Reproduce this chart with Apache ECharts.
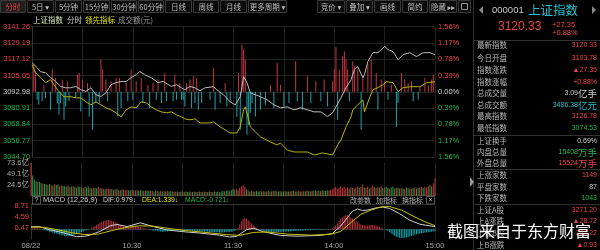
<!DOCTYPE html>
<html><head><meta charset="utf-8">
<script src="https://cdn.jsdelivr.net/npm/echarts@6/dist/echarts.min.js"></script>
<style>html,body{margin:0;padding:0;background:#000;}#c{width:600px;height:250px;}</style>
</head><body><div id="c"></div>
<script>
// ---------------- DATA ----------------
const prevClose = 3092.98;
const priceTicks = [3044.70,3056.77,3068.84,3080.91,3092.98,3105.05,3117.12,3129.19,3141.26];
const volTicks = [24.5,49.1,73.6];
const macdTicks = [0.47,4.59,8.71];
const timeTickLabels = ['08/22','','10:30','','11:30','','14:00','','15:00'];

// [minute index, price]
const priceLine = [[0,3114.5],[3,3110.8],[5,3107.8],[8,3107.1],[11,3103.4],[12,3104.3],[14,3100.6],[17,3096.9],[20,3095.9],[23,3095.9],[26,3096.9],[29,3094.5],[32,3093.2],[35,3095.9],[38,3090.8],[41,3089.5],[44,3092.2],[47,3098.2],[50,3099.7],[53,3100.6],[56,3100.6],[59,3103.4],[62,3105.6],[64,3108.1],[67,3105.6],[71,3103.4],[75,3099.7],[78,3100.6],[83,3096.9],[86,3098.2],[89,3095.9],[91,3094.5],[94,3096.9],[97,3095.9],[100,3093.7],[103,3095.9],[108,3096.7],[110,3094.5],[114,3090.8],[118,3085.5],[121,3083.3],[124,3089.3],[126,3104.1],[128,3099.7],[130,3092.2],[136,3089.3],[140,3087.0],[144,3083.3],[148,3081.1],[152,3081.8],[156,3079.6],[160,3081.1],[164,3079.6],[168,3078.1],[172,3078.1],[176,3074.6],[179,3077.4],[181,3081.8],[184,3088.5],[187,3096.0],[190,3101.9],[192,3109.3],[194,3111.6],[197,3103.4],[198,3105.6],[200,3115.3],[203,3121.9],[206,3121.9],[207,3122.7],[210,3126.5],[212,3124.2],[215,3122.7],[218,3116.7],[221,3120.5],[225,3121.9],[229,3119.0],[233,3121.9],[237,3121.9],[240,3120.33]];

// 领先指标 line
const leadLine = [[0,3113.0],[2,3107.1],[5,3103.4],[8,3099.7],[11,3101.9],[13,3098.2],[16,3093.0],[19,3089.3],[23,3089.3],[26,3088.5],[29,3088.5],[32,3085.5],[35,3083.3],[38,3085.5],[41,3083.3],[44,3081.1],[47,3079.6],[50,3077.4],[53,3074.4],[56,3079.6],[59,3081.8],[62,3081.1],[65,3085.5],[68,3084.8],[71,3081.8],[74,3079.6],[77,3078.1],[80,3077.4],[83,3078.1],[86,3075.9],[89,3074.4],[91,3072.9],[94,3072.2],[97,3072.9],[100,3069.9],[106,3069.9],[108,3070.7],[112,3067.0],[118,3062.5],[122,3062.5],[124,3067.0],[126,3079.6],[127,3081.8],[129,3072.2],[130,3067.0],[136,3059.6],[142,3055.8],[146,3053.6],[148,3055.1],[152,3049.9],[156,3048.4],[164,3048.4],[168,3046.2],[173,3047.7],[179,3046.2],[182,3053.6],[184,3057.3],[187,3067.0],[190,3074.4],[191,3079.6],[194,3083.3],[197,3087.0],[198,3078.1],[201,3088.5],[203,3094.5],[206,3096.0],[209,3098.2],[211,3100.4],[215,3099.7],[218,3093.0],[221,3096.0],[225,3096.7],[231,3096.7],[235,3099.7],[240,3100.4]];

// red/cyan 领先 bars, [minute index, % value]
const leadBars = [[1,0.65],[2,0.49],[3,-0.19],[4,-0.31],[6,-0.23],[7,0.17],[8,-0.15],[11,-0.43],[12,0.53],[14,0.33],[15,-0.27],[16,-0.55],[17,-0.27],[18,0.29],[19,-0.67],[20,-0.35],[21,0.25],[22,-0.23],[26,-0.15],[27,0.41],[28,0.45],[29,-0.47],[30,0.29],[33,0.21],[34,-0.59],[36,-0.91],[38,-0.27],[40,-0.27],[41,0.77],[42,0.53],[44,0.29],[45,-0.23],[47,0.25],[50,0.33],[51,-0.59],[52,0.33],[53,-0.39],[56,0.21],[57,-0.23],[59,0.53],[60,-0.19],[62,0.25],[65,0.33],[66,-0.27],[69,0.17],[70,-0.39],[72,0.21],[74,-0.19],[75,0.29],[77,-0.27],[79,0.45],[80,-0.23],[84,-0.23],[85,0.41],[86,-0.19],[88,0.21],[89,-0.19],[90,-0.19],[91,-0.35],[92,0.21],[94,0.29],[95,-0.39],[96,0.37],[97,-0.27],[98,0.33],[99,-0.43],[101,-0.27],[106,-0.19],[108,0.57],[109,-0.43],[112,-0.27],[115,0.21],[116,-0.35],[118,-0.19],[122,-0.6],[123,0.45],[124,-0.91],[125,1.13],[126,1.01],[127,0.77],[128,-1.03],[129,-0.8],[130,-0.5],[131,-0.27],[133,-0.59],[136,-0.43],[139,-0.31],[142,0.17],[144,-0.39],[146,0.69],[148,0.17],[150,-0.35],[153,-0.27],[157,0.73],[158,-0.23],[161,-0.43],[164,0.37],[166,-0.27],[169,0.25],[172,-0.23],[174,0.29],[176,-0.35],[179,0.25],[180,0.53],[181,1.07],[182,-0.67],[183,0.53],[185,0.85],[186,0.97],[187,0.77],[188,0.53],[189,-0.23],[191,0.73],[192,0.61],[194,0.53],[196,-0.91],[197,0.37],[200,0.65],[202,0.77],[205,0.45],[206,-0.43],[208,0.29],[210,0.25],[212,-0.19],[214,0.17],[217,-0.84],[218,-0.27],[220,0.45],[222,0.29],[224,0.21],[226,0.25],[227,-0.23],[230,-0.19],[231,0.12],[234,0.33],[236,0.17],[238,0.29],[239,0.41]];

// 成交额 (亿) per minute; positive = up (red), negative = down (green)
const volume = [73.6,-46,-37,-33,31,-32,-29,28,-27,-26,
25,-27,24,-23,26,-24,-25,22,24,-23,
-22,21,-23,20,-21,22,-20,19,-21,-20,
19,-18,20,-19,-21,18,-17,19,-18,-17,
20,18,-17,16,-15,17,16,-15,16,-14,
15,-16,14,-13,15,-14,13,14,-13,-12,
14,13,-12,13,-12,-13,12,-11,12,-12,
-11,12,-11,10,-12,11,-10,11,-10,11,
-10,11,-10,-11,10,-9,10,-10,9,-10,
10,-9,10,-9,-10,9,-9,10,-9,9,
-10,9,-9,10,-9,9,-10,9,-9,10,
-9,-10,9,-10,-11,10,-11,-12,11,-13,
-16,14,16,-13,18,22,24,20,-15,12,
-10,11,-10,10,-11,-10,11,-10,11,-10,
10,-11,10,-10,11,-12,10,-10,11,-10,
-10,11,-10,10,-10,11,-11,10,-10,11,
-10,10,11,-10,12,-11,10,-11,12,-12,
11,-12,11,-13,12,-12,-13,12,14,15,
18,20,16,19,22,18,21,17,19,-16,
20,18,-17,19,21,-18,20,26,-19,18,
21,-17,19,23,-20,18,20,-19,21,-18,
19,-20,-18,17,-19,-21,16,-18,19,-17,
18,-17,16,-19,18,-16,17,-18,19,-17,
18,-19,20,-18,21,19,-22,25,-21,28,
39];

// MACD histogram per minute
const macdHist = [0.3,0.4,0.5,0.4,0.3,0.2,0.1,-0.1,-0.3,-0.5,
-0.7,-0.9,-1.1,-1.3,-1.5,-1.7,-1.9,-2.0,-2.2,-2.3,
-2.4,-2.5,-2.6,-2.5,-2.4,-2.2,-2.0,-1.8,-1.6,-1.3,
-1.0,-0.8,-0.6,-0.4,-0.2,0.1,0.4,0.8,1.2,1.6,
2.0,2.4,2.7,3.0,3.2,3.4,3.5,3.4,3.2,3.0,
2.7,2.4,2.0,1.6,1.2,0.9,0.7,0.6,0.7,0.8,
0.9,1.0,1.1,1.0,0.9,0.8,0.6,0.4,0.2,0.1,
-0.1,-0.2,-0.4,-0.5,-0.6,-0.7,-0.8,-0.8,-0.9,-0.9,
-0.8,-0.8,-0.7,-0.7,-0.6,-0.6,-0.5,-0.5,-0.6,-0.6,
-0.7,-0.7,-0.6,-0.6,-0.5,-0.5,-0.6,-0.6,-0.7,-0.7,
-0.8,-0.8,-0.8,-0.9,-0.9,-0.9,-1.0,-1.0,-1.0,-1.1,
-1.1,-1.1,-1.2,-1.2,-1.2,-1.1,-1.1,-1.0,-1.0,-0.9,
-0.8,-0.6,-0.3,0.5,1.8,3.0,3.8,4.2,4.0,3.5,
2.8,2.2,1.6,1.0,0.5,0.1,-0.2,-0.4,-0.6,-0.7,
-0.8,-0.9,-1.0,-1.0,-1.1,-1.1,-1.0,-1.0,-1.0,-0.9,
-0.9,-0.9,-0.8,-0.8,-0.8,-0.7,-0.7,-0.7,-0.6,-0.6,
-0.6,-0.5,-0.5,-0.5,-0.4,-0.4,-0.4,-0.3,-0.3,-0.3,
-0.3,-0.2,-0.2,-0.2,-0.1,-0.1,0.0,0.1,0.2,0.4,
0.8,1.4,2.2,3.0,3.8,4.5,5.0,5.3,5.2,4.9,
4.5,4.0,3.5,3.0,2.5,2.1,1.8,1.6,1.5,1.4,
1.4,1.5,1.6,1.6,1.5,1.3,1.1,0.9,0.6,0.3,
0.0,-0.3,-0.7,-1.1,-1.6,-2.0,-2.4,-2.8,-3.0,-3.2,
-3.3,-3.3,-3.2,-3.1,-2.9,-2.7,-2.5,-2.3,-2.1,-1.9,
-1.7,-1.6,-1.5,-1.4,-1.3,-1.2,-1.1,-1.0,-0.9,-0.8,
-0.72];

const difLine = [[0,0.9],[5,1.0],[11,-0.2],[17,-1.0],[21,-1.6],[27,-2.8],[32,-2.6],[35,-2.2],[41,-0.8],[47,1.3],[51,1.8],[57,1.0],[65,2.4],[71,1.3],[81,-0.3],[92,-1.0],[100,-1.4],[112,-2.2],[118,-2.9],[122,-2.7],[128,-0.2],[132,0.4],[138,-0.9],[148,-2.3],[158,-2.6],[172,-2.3],[179,-1.6],[184,1.2],[188,4.4],[191,6.8],[194,7.6],[197,7.0],[200,7.2],[205,8.0],[209,8.3],[213,7.8],[219,5.8],[225,3.4],[231,1.9],[240,0.979]];
const deaLine = [[0,0.8],[8,0.7],[16,-0.2],[24,-1.3],[32,-2.0],[40,-1.8],[48,-0.5],[56,0.6],[64,1.3],[72,1.2],[82,0.3],[92,-0.5],[104,-1.2],[116,-2.0],[124,-2.3],[132,-1.2],[140,-1.0],[152,-1.8],[166,-2.2],[178,-1.9],[184,-0.8],[190,2.5],[196,5.6],[202,7.2],[208,8.4],[213,8.5],[220,7.2],[228,4.6],[234,2.8],[240,1.339]];

const infoRows = [
 ['最新指数','3120.33','', 'r'],['今日开盘','3103.78','','r'],['指数涨跌','▲27.35','','r'],['指数涨幅','+0.88%','','r'],
 ['总成交量','3.09','亿手','w'],['总成交额','3486.38','亿元','c'],['最高指数','3126.78','','r'],['最低指数','3074.53','','g'],
 ['上证换手','0.69%','','w'],['内盘总量','15408','万手','g'],['外盘总量','15524','万手','r'],
 ['上涨家数','1149','','r'],['平盘家数','87','','w'],['下跌家数','1043','','g'],
 ['上证A股','3271.20','','r'],['上A涨跌','▲28.72','','r'],['上证B股','262.22','','r'],['上B涨跌','▲0.93','','r']
];

// ---------------- STYLE / LAYOUT ----------------
const RED='#ee4444', GREEN='#22b84a', CYAN='#1fc3d1', WHITE='#d2d2d2', GRAY='#a8a8a8';
const FF="'Liberation Sans','Noto Sans CJK SC','DejaVu Sans',sans-serif";
const CJK="'Noto Sans CJK SC','DejaVu Sans',sans-serif";
const colorMap={r:RED,g:GREEN,c:CYAN,w:WHITE};

function T(x,y,s,c,fs,al,ff){return {type:'text',x:x,y:y,silent:true,style:{text:s,fill:c,fontSize:fs,fontFamily:ff||FF,align:al||'left',verticalAlign:'middle'}};}
function Rc(x,y,w,h,stroke,fill){return {type:'rect',silent:true,shape:{x:x,y:y,width:w,height:h},style:{stroke:stroke,fill:fill||'none',lineWidth:1}};}
function Ln(x1,y1,x2,y2,c){return {type:'line',silent:true,shape:{x1:x1,y1:y1,x2:x2,y2:y2},style:{stroke:c,lineWidth:1}};}

const g=[];
// toolbar
const tbL=[['分时',0,26],['5日 ▾',27,54],['5分钟',55,82],['15分钟',83,110],['30分钟',111,137],['60分钟',138,164],['日线',165,192],['周线',193,219],['月线',220,247],['更多周期 ▾',248,287],
 ['竞价 ▾',317,345],['叠加 ▾',346,373],['画线',374,401],['简约',402,428],['隐藏 ▸▸',429,457]];
tbL.forEach((b,i)=>{
  g.push(Rc(b[1]+0.5,0.5,b[2]-b[1]-1,12,'#3a3a3a',i===0?'#1e1e1e':'#0b0b0b'));
  g.push(T((b[1]+b[2])/2,7,b[0],i===0?RED:'#bdbdbd',7.5,'center',CJK));
});
g.push(Rc(458.5,0.5,12,12,'#3a3a3a','#0b0b0b'));
g.push(Rc(461.5,3.5,6,6,'#999','none'));
// legend row
g.push(T(33,20.5,'上证指数','#d8e6b4',7.5,'left',CJK));
g.push(T(67,20.5,'分时','#cfcfcf',7.5,'left',CJK));
g.push(T(85,20.5,'领先指标','#e6e600',7.5,'left',CJK));
g.push(T(118,20.5,'成交额(元)','#9a9a9a',7.5,'left',CJK));
// MACD header
g.push(Ln(31,195.5,435,195.5,'#333'));
g.push(Ln(31,204.5,435,204.5,'#333'));
g.push(Rc(32.5,196.5,8,7.5,'#555','none'));
g.push(T(36.5,200.3,'?','#bbb',6.5,'center'));
g.push(T(43,200.3,'MACD (12,26,9)','#c8c8c8',7.5));
g.push(T(103,200.3,'DIF:0.979↓',WHITE,6.8));
g.push(T(142,200.3,'DEA:1.339↓','#e0e000',6.8));
g.push(T(185,200.3,'MACD:-0.721↓',GREEN,6.8));
[['改参数',349,372],['加指标',375,398],['换指标',401,424]].forEach(b=>{g.push(T((b[1]+b[2])/2,200.3,b[0],'#b0b0b0',7,'center',CJK));});
g.push(Rc(426.5,196.5,8,7.5,'#555','none'));
g.push(T(430.5,200.3,'×','#bbb',7,'center'));
// right panel
g.push(Ln(473.5,0,473.5,250,'#333'));
g.push({type:'polygon',silent:true,shape:{points:[[483,6],[483,14],[479,10]]},style:{fill:'#888'}});
g.push({type:'polygon',silent:true,shape:{points:[[592,6],[592,14],[596,10]]},style:{fill:'#888'}});
g.push(T(492,10,'000001','#c8c8c8',9.5));
g.push(T(528,10,'上证指数',CYAN,12.5,'left',CJK));
g.push(T(498,27,'3120.33',RED,12));
g.push(T(552,25,'+27.35',RED,7.5));
g.push(T(552,33,'+0.88%',RED,7.5));
[40,135,169,204].forEach(y=>g.push(Ln(474,y+0.5,600,y+0.5,'#333')));
const rowY=[45.5,58,70.5,82,93.5,105,116.5,128,141,152.5,163.5,175.5,187,198.5,210,221.5,233,245];
infoRows.forEach((r,i)=>{
  const y=rowY[i];
  g.push(T(477,y,r[0],'#b8b8b8',7.5,'left',CJK));
  const c=colorMap[r[3]];
  if(r[2]){
    g.push(T(597,y,r[2],c,9.5,'right',CJK));
    g.push(T(597-19,y,r[1],c,7,'right'));
  } else g.push(T(597,y,r[1],c,7,'right'));
});
g.push({type:'polygon',silent:true,shape:{points:[[470,177],[474,182],[470,187]]},style:{fill:'#9a9a9a'}});
// watermark
g.push({type:'text',x:447,y:231,silent:true,z:100,style:{text:'截图来自于东方财富',fill:'#ffffff',fontSize:16,fontFamily:CJK,align:'left',verticalAlign:'middle',textShadowColor:'rgba(0,0,0,0.6)',textShadowBlur:2}});

// ---------------- CHART ----------------
const chart=echarts.init(document.getElementById('c'),null,{renderer:'canvas',width:600,height:250});
const splitC='#222';
function xAx(gi,showLabel){return {type:'value',gridIndex:gi,min:0,max:240,interval:30,
  axisLine:{show:gi===2,lineStyle:{color:'#333'}},axisTick:{show:false},
  splitLine:{show:true,lineStyle:{color:splitC,width:1}},
  axisLabel:{show:showLabel,color:GRAY,fontSize:7.5,fontFamily:FF,margin:3,showMinLabel:true,showMaxLabel:true,
    formatter:v=>timeTickLabels[Math.round(v/30)]||''}};}
const option={
  backgroundColor:'#000',animation:false,
  grid:[{left:31,top:26.5,width:404,height:130.5},{left:31,top:163,width:404,height:33},{left:31,top:206,width:404,height:33}],
  xAxis:[xAx(0,false),xAx(1,false),xAx(2,true)],
  yAxis:[
    {type:'value',gridIndex:0,position:'left',min:priceTicks[0],max:priceTicks[priceTicks.length-1],
     axisLine:{show:true,lineStyle:{color:'#333'}},axisTick:{show:false},splitLine:{show:false},
     axisLabel:{customValues:priceTicks,fontSize:7.5,fontFamily:FF,margin:2,formatter:v=>Number(v).toFixed(2),
       color:v=>{const n=parseFloat(v);return Math.abs(n-prevClose)<0.01?WHITE:(n>prevClose?RED:GREEN);}}},
    {type:'value',gridIndex:0,position:'right',min:-1.56,max:1.56,interval:0.39,
     axisLine:{show:false},axisTick:{show:false},splitLine:{show:true,lineStyle:{color:splitC}},
     axisLabel:{fontSize:7.5,fontFamily:FF,margin:3,formatter:v=>Math.abs(v).toFixed(2)+'%',
       color:v=>{const n=parseFloat(v);return Math.abs(n)<0.001?WHITE:(n>0?RED:GREEN);}}},
    {type:'value',gridIndex:1,min:0,max:73.6,axisLine:{show:true,lineStyle:{color:'#333'}},axisTick:{show:false},splitLine:{show:false},
     axisLabel:{customValues:volTicks,fontSize:7.5,fontFamily:FF,margin:2,color:GRAY,formatter:v=>Number(v).toFixed(1)+'亿'}},
    {type:'value',gridIndex:2,min:-3.65,max:8.71,axisLine:{show:true,lineStyle:{color:'#333'}},axisTick:{show:false},splitLine:{show:false},
     axisLabel:{customValues:macdTicks,fontSize:7.5,fontFamily:FF,margin:2,color:RED,formatter:v=>Number(v).toFixed(2)}}
  ],
  series:[
    {type:'bar',xAxisIndex:0,yAxisIndex:1,barWidth:1,silent:true,
     data:leadBars.map(d=>({value:d,itemStyle:{color:d[1]>=0?'#c4383e':'#1aa6b0'}}))},
    {type:'line',xAxisIndex:0,yAxisIndex:0,data:leadLine,symbol:'none',silent:true,lineStyle:{color:'#b8b400',width:1}},
    {type:'line',xAxisIndex:0,yAxisIndex:0,data:priceLine,symbol:'none',silent:true,lineStyle:{color:'#bcbcbc',width:1}},
    {type:'bar',xAxisIndex:1,yAxisIndex:2,barWidth:1,silent:true,
     data:volume.map((v,i)=>({value:[i,Math.abs(v)],itemStyle:{color:v>=0?'#c4373c':'#1e9f48'}}))},
    {type:'bar',xAxisIndex:2,yAxisIndex:3,barWidth:1,silent:true,
     data:macdHist.map((v,i)=>({value:[i,v],itemStyle:{color:v>=0?'#b8343a':'#14a5ae'}}))},
    {type:'line',xAxisIndex:2,yAxisIndex:3,data:difLine,symbol:'none',silent:true,lineStyle:{color:'#cfcfcf',width:1}},
    {type:'line',xAxisIndex:2,yAxisIndex:3,data:deaLine,symbol:'none',silent:true,lineStyle:{color:'#c8c000',width:1}}
  ],
  graphic:{elements:g}
};
chart.setOption(option);
</script></body></html>
